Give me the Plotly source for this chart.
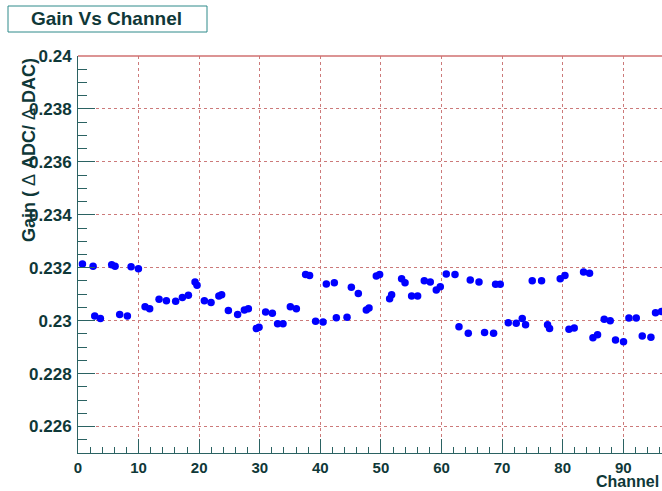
import plotly.graph_objects as go

# ---- data ----
channel = [0.73, 2.49, 2.76, 3.70, 5.56, 6.12, 6.88, 8.15, 8.76, 9.97,
           11.07, 11.83, 13.38, 14.59, 16.12, 17.23, 18.22, 19.32, 19.65, 20.86,
           21.96, 23.25, 23.71, 24.82, 26.35, 27.46, 28.12, 29.44, 29.88, 30.97,
           32.08, 32.95, 33.84, 35.05, 36.04, 37.57, 38.23, 39.22, 40.45, 40.99,
           42.31, 42.64, 44.41, 45.12, 46.27, 47.59, 48.04, 49.24, 49.79, 51.44,
           51.77, 53.42, 53.98, 55.07, 56.06, 57.16, 58.15, 59.14, 59.80, 60.79,
           62.23, 62.89, 64.42, 64.75, 66.19, 67.11, 68.60, 68.93, 69.70, 71.02,
           72.34, 73.33, 73.88, 74.98, 76.52, 77.51, 77.84, 79.60, 80.38, 81.04,
           81.91, 83.45, 84.44, 85.00, 85.76, 86.86, 87.85, 88.73, 90.05, 90.94,
           92.15, 93.14, 94.57, 95.33, 96.32]
gain = [0.23214, 0.23206, 0.23018, 0.23008, 0.23211, 0.23206, 0.23023, 0.23018, 0.23204, 0.23196,
        0.23053, 0.23045, 0.23081, 0.23075, 0.23073, 0.23088, 0.23096, 0.23146, 0.23134, 0.23075,
        0.23069, 0.23093, 0.23098, 0.23038, 0.23023, 0.23040, 0.23045, 0.22970, 0.22975, 0.23033,
        0.23028, 0.22988, 0.22988, 0.23053, 0.23045, 0.23174, 0.23171, 0.22998, 0.22995, 0.23139,
        0.23143, 0.23011, 0.23013, 0.23126, 0.23103, 0.23040, 0.23048, 0.23169, 0.23174, 0.23083,
        0.23098, 0.23158, 0.23143, 0.23093, 0.23093, 0.23151, 0.23146, 0.23116, 0.23128, 0.23176,
        0.23174, 0.22977, 0.22952, 0.23154, 0.23146, 0.22955, 0.22952, 0.23138, 0.23138, 0.22992,
        0.22990, 0.23008, 0.22985, 0.23151, 0.23151, 0.22985, 0.22970, 0.23158, 0.23171, 0.22968,
        0.22972, 0.23184, 0.23179, 0.22935, 0.22947, 0.23005, 0.23000, 0.22927, 0.22920, 0.23010,
        0.23010, 0.22942, 0.22937, 0.23030, 0.23035]

x_tickvals = [0, 10, 20, 30, 40, 50, 60, 70, 80, 90]
y_tickvals = [0.226, 0.228, 0.23, 0.232, 0.234, 0.236, 0.238, 0.24]
y_ticktext = ["0.226", "0.228", "0.23", "0.232", "0.234", "0.236", "0.238", "0.24"]

title_text = "Gain Vs Channel"
ytitle_text = "Gain ( <span style='font-weight:normal'>Δ</span> ADC/ <span style='font-weight:normal'>Δ</span> DAC)"
xtitle_text = "Channel"

TXT = "#0f3838"
AX = "#2b6262"
GRID = "#cc7a7a"

fig = go.Figure()
fig.add_trace(go.Scatter(
    x=channel, y=gain, mode="markers",
    marker=dict(color="#0000ff", size=7.5, line=dict(width=0)),
    showlegend=False,
))

fig.update_layout(
    width=662, height=491,
    margin=dict(l=78, r=0, t=56, b=38),
    paper_bgcolor="white", plot_bgcolor="white",
    font=dict(family="Liberation Sans", color=TXT),
    xaxis=dict(
        range=[0, 96.4], tickvals=x_tickvals,
        ticks="inside", ticklen=14, tickcolor=AX, tickwidth=1,
        showline=True, linecolor=AX, linewidth=1,
        showgrid=True, gridcolor=GRID, griddash="dot", gridwidth=1,
        zeroline=False,
        tickfont=dict(family="Liberation Sans", size=15, color=TXT, weight="bold"),
        ticklabelstandoff=1,
        minor=dict(dtick=2, tick0=0, ticks="inside", ticklen=6, tickcolor=AX, showgrid=False),
    ),
    yaxis=dict(
        range=[0.225, 0.24], tickvals=y_tickvals, ticktext=y_ticktext,
        ticks="inside", ticklen=17, tickcolor=AX, tickwidth=1,
        showline=True, linecolor=AX, linewidth=1,
        showgrid=True, gridcolor=GRID, griddash="dot", gridwidth=1,
        zeroline=False,
        tickfont=dict(family="Liberation Sans", size=17, color=TXT, weight="bold"),
        ticklabelstandoff=2,
        minor=dict(dtick=0.0005, tick0=0.225, ticks="inside", ticklen=9, tickcolor=AX, showgrid=False),
    ),
)

# top frame line
fig.add_shape(type="line", xref="paper", yref="paper", x0=0, x1=1, y0=1, y1=1,
              line=dict(color="#d07070", width=1.5))

# title box
fig.add_shape(type="rect", xref="paper", yref="paper",
              x0=(8 - 78) / 584, x1=(207 - 78) / 584,
              y0=(453 - 32) / 397, y1=(453 - 6) / 397,
              line=dict(color="#2f8a8a", width=1), fillcolor="white")
fig.add_annotation(text=title_text, xref="paper", yref="paper",
                   x=(106 - 78) / 584, y=(453 - 19) / 397,
                   xanchor="center", yanchor="middle", showarrow=False,
                   font=dict(family="Liberation Sans", size=19, color=TXT, weight="bold"))

# y axis title
fig.add_annotation(text=ytitle_text, xref="paper", yref="paper",
                   x=(29 - 78) / 584, y=(453 - 150) / 397, textangle=-90,
                   xanchor="center", yanchor="middle", showarrow=False,
                   font=dict(family="Liberation Sans", size=18, color=TXT, weight="bold"))

# x axis title
fig.add_annotation(text=xtitle_text, xref="paper", yref="paper",
                   x=(660 - 78) / 584, y=(453 - 491) / 397,
                   xanchor="right", yanchor="bottom", showarrow=False,
                   borderpad=0,
                   font=dict(family="Liberation Sans", size=16, color=TXT, weight="bold"))

fig.write_html("out.html")
